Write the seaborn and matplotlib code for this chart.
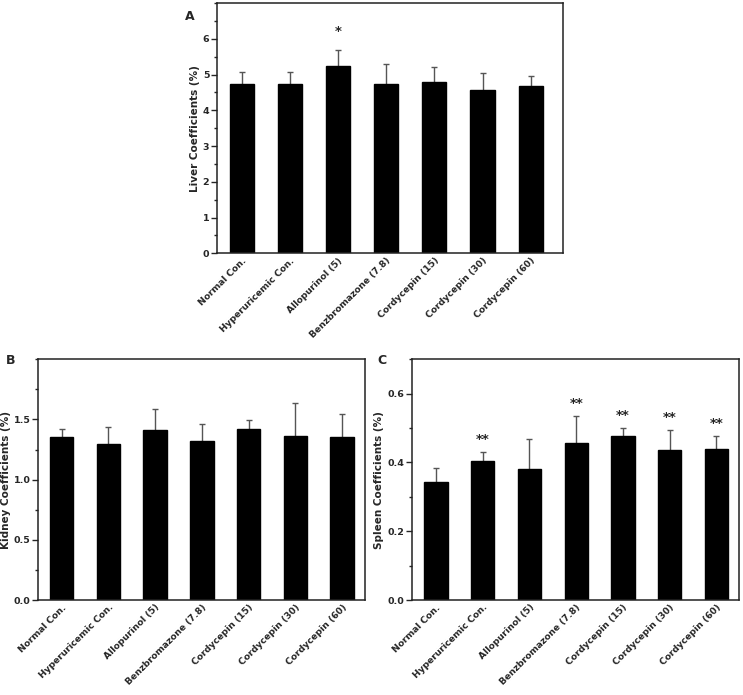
import numpy as np
import pandas as pd
import matplotlib
matplotlib.use("Agg")
import matplotlib.pyplot as plt
import seaborn as sns
from matplotlib.ticker import MultipleLocator

sns.set_style("white")
plt.rcParams['font.family'] = ['DejaVu Sans']
plt.rcParams['font.weight'] = 'bold'

groups = ["Normal Con.", "Hyperuricemic Con.", "Allopurinol (5)", "Benzbromazone (7.8)",
          "Cordycepin (15)", "Cordycepin (30)", "Cordycepin (60)"]

liver_mean = [4.74, 4.73, 5.24, 4.74, 4.80, 4.56, 4.68]
liver_sd = [0.33, 0.33, 0.45, 0.56, 0.40, 0.48, 0.27]
liver_sig = ["", "", "*", "", "", "", ""]

kidney_mean = [1.354, 1.294, 1.415, 1.324, 1.418, 1.365, 1.351]
kidney_sd = [0.064, 0.146, 0.168, 0.140, 0.077, 0.273, 0.193]
kidney_sig = ["", "", "", "", "", "", ""]

spleen_mean = [0.342, 0.404, 0.382, 0.458, 0.478, 0.435, 0.439]
spleen_sd = [0.042, 0.025, 0.087, 0.078, 0.021, 0.059, 0.038]
spleen_sig = ["", "**", "", "**", "**", "**", "**"]

W, H = 743, 695
fig = plt.figure(figsize=(W / 100, H / 100), dpi=100)


def box(l, r, t, b):
    return [l / W, 1 - b / H, (r - l) / W, (b - t) / H]


def panel(rect, means, sds, sig, ylabel, ylim, major, minor, xlim, letter, letter_xy, star_off):
    ax = fig.add_axes(rect)
    df = pd.DataFrame({"group": groups, "mean": means, "sd": sds})
    # symmetric bars drawn under the columns so only the upper half shows
    ax.errorbar(np.arange(len(groups)), df["mean"], yerr=df["sd"], fmt="none",
                ecolor="#555555", elinewidth=1.0, capsize=2.5, capthick=1.0, zorder=1)
    sns.barplot(data=df, x="group", y="mean", color="black", edgecolor="black",
                saturation=1, width=0.5, errorbar=None, ax=ax, zorder=2)
    for i, s in enumerate(sig):
        if s:
            ax.annotate(s, (i, means[i] + sds[i]), xytext=(0, star_off), textcoords="offset points",
                        ha="center", va="center", fontsize=9.5, fontweight="bold")
    ticks = np.arange(ylim[0], ylim[1] - 1e-9, major)
    ax.set_yticks(ticks)
    ax.yaxis.set_minor_locator(MultipleLocator(minor))
    ax.set_ylim(*ylim)
    ax.set_xlim(*xlim)
    ax.tick_params(axis="y", which="major", direction="out", length=4, width=1, left=True,
                   labelsize=6.8, pad=1.5)
    ax.tick_params(axis="y", which="minor", direction="out", length=2.5, width=1, left=True)
    ax.tick_params(axis="x", length=0, labelsize=6.6, pad=2)
    for lab in ax.get_xticklabels():
        lab.set_rotation(45)
        lab.set_ha("right")
        lab.set_rotation_mode("anchor")
        lab.set_fontweight("bold")
    for lab in ax.get_yticklabels():
        lab.set_fontweight("bold")
    for sp in ax.spines.values():
        sp.set_visible(True)
        sp.set_color("#222222")
        sp.set_linewidth(1.1)
    ax.set_xlabel("")
    ax.set_ylabel(ylabel, fontsize=7.5, fontweight="bold", labelpad=2)
    fig.text(letter_xy[0] / W, 1 - letter_xy[1] / H, letter, fontsize=9, fontweight="bold",
             ha="center", va="center")
    return ax


panel(box(217, 563, 3, 253.3), liver_mean, liver_sd, liver_sig, "Liver Coefficients (%)",
      (0, 7), 1, 0.5, (-0.51, 6.67), "A", (190, 17), 13)
panel(box(38.3, 365, 359.3, 600), kidney_mean, kidney_sd, kidney_sig, "Kidney Coefficients (%)",
      (0, 2.0), 0.5, 0.25, (-0.5, 6.49), "B", (11, 361), 10)
panel(box(411.7, 739.3, 359.3, 600), spleen_mean, spleen_sd, spleen_sig, "Spleen Coefficients (%)",
      (0, 0.7), 0.2, 0.1, (-0.52, 6.49), "C", (382, 361), 9)

fig.savefig("out.png", dpi=100)
